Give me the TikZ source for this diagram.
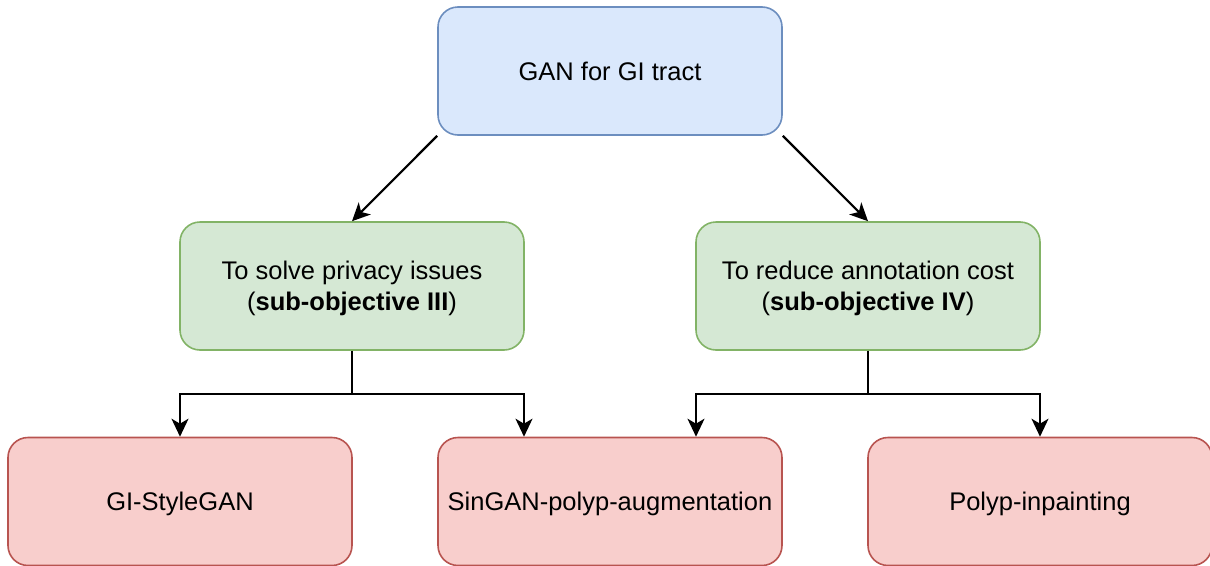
\documentclass[tikz,border=0pt]{standalone}
\usepackage{fontspec}
\setmainfont{Liberation Sans}
\usetikzlibrary{arrows.meta}
\definecolor{bfill}{HTML}{DAE8FC}\definecolor{bdraw}{HTML}{6C8EBF}
\definecolor{gfill}{HTML}{D5E8D4}\definecolor{gdraw}{HTML}{82B366}
\definecolor{rfill}{HTML}{F8CECC}\definecolor{rdraw}{HTML}{B85450}
\tikzset{
  box/.style={rounded corners=20pt, line width=1.6pt, minimum width=344pt, minimum height=128pt, inner sep=0pt, align=center, text depth=0pt, font=\fontsize{25.5}{31}\selectfont},
  bluebox/.style={box, fill=bfill, draw=bdraw},
  greenbox/.style={box, fill=gfill, draw=gdraw},
  redbox/.style={box, fill=rfill, draw=rdraw},
  conn/.style={line width=2.2pt, -{Stealth[length=18pt,width=17pt,inset=5pt]}},
}
\begin{document}
\begin{tikzpicture}[x=1pt,y=-1pt]
\useasboundingbox (0,0) rectangle (1210,565);
\clip (0,0) rectangle (1210,565);
\node[bluebox] (top) at (610,71) {GAN for GI tract};
\node[greenbox] (g1) at (352,286) {To solve privacy issues\\(\textbf{sub-objective III})};
\node[greenbox] (g2) at (868,286) {To reduce annotation cost\\(\textbf{sub-objective IV})};
\node[redbox] (r1) at (180,501.5) {GI-StyleGAN};
\node[redbox] (r2) at (610,501.5) {SinGAN-polyp-augmentation};
\node[redbox] (r3) at (1040,501.5) {Polyp-inpainting};
\draw[conn] (top.south west) -- (g1.north);
\draw[conn] (top.south east) -- (g2.north);
\draw[conn] (g1.south) -- ++(0,43) -| (r1.north);
\draw[conn] (g1.south) -- ++(0,43) -| (r2.north west -| 524,0);
\draw[conn] (g2.south) -- ++(0,43) -| (r2.north east -| 696,0);
\draw[conn] (g2.south) -- ++(0,43) -| (r3.north);
\end{tikzpicture}
\end{document}
